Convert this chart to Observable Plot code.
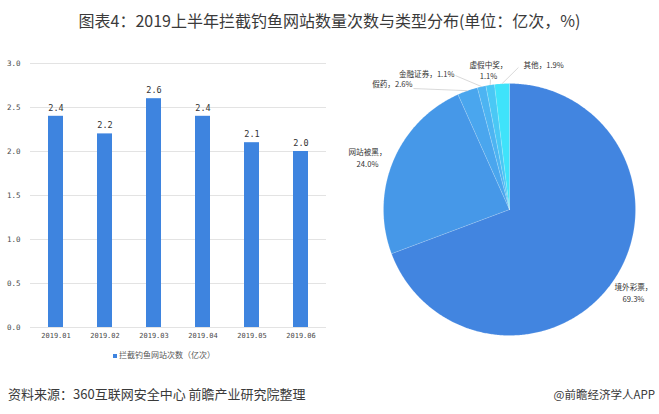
<!DOCTYPE html>
<html><head><meta charset="utf-8">
<script src="https://cdn.jsdelivr.net/npm/d3@7"></script>
<script src="https://cdn.jsdelivr.net/npm/@observablehq/plot@0.6"></script>
<style>
body{margin:0;background:#fff;}
#root{position:relative;width:659px;height:414px;overflow:hidden;background:#fff;font-family:"Noto Sans CJK SC",sans-serif;}
.abs{position:absolute;}
#title{left:0;top:9px;width:659px;text-align:center;font-size:16px;color:#3a3a3a;line-height:22px;white-space:nowrap;}
#legend{left:113px;top:348px;font-size:8px;color:#555;line-height:14px;white-space:nowrap;}
#legend span.sw{display:inline-block;width:4px;height:4px;background:#3E84DF;margin-right:2px;vertical-align:middle;}
#source{left:8px;top:384px;font-size:13px;color:#3a3a3a;line-height:20px;white-space:nowrap;}
#brand{right:4px;top:384px;font-size:11.5px;color:#3a3a3a;line-height:20px;white-space:nowrap;}
</style></head><body><div id="root">
<div id="title" class="abs"></div>
<div id="bar" class="abs" style="left:0;top:50px;"></div>
<div id="pie" class="abs" style="left:330px;top:40px;"></div>
<div id="legend" class="abs"></div>
<div id="source" class="abs"></div>
<div id="brand" class="abs"></div>
</div>
<script>
// ---- data ----
const titleText = "图表4：2019上半年拦截钓鱼网站数量次数与类型分布(单位：亿次，%)";
const months = ["2019.01","2019.02","2019.03","2019.04","2019.05","2019.06"];
const counts = [2.4, 2.2, 2.6, 2.4, 2.1, 2.0];
const yTicks = [0, 0.5, 1.0, 1.5, 2.0, 2.5, 3.0];
const seriesName = "拦截钓鱼网站次数（亿次）";
const types = ["境外彩票","网站被黑","假药","金融证券","虚假中奖","其他"];
const shares = [69.3, 24.0, 2.6, 1.1, 1.1, 1.9];
const sourceText = "资料来源：360互联网安全中心 前瞻产业研究院整理";
const brandText = "@前瞻经济学人APP";

// ---- styles / layout ----
const barColor = "#3E84DF";
const pieColors = ["#4285E0","#4698E8","#4AA6EE","#4DB4F2","#4AC8F5","#3FE3FA"];
const mono = "'DejaVu Sans Mono', monospace";
const cjk = "'Noto Sans CJK SC', sans-serif";
// label anchors in pie-radius units, plus line-break flag and text anchor
const labelX = [0.984, -1.127, -0.770, -0.437, -0.167, 0.111];
const labelY = [-0.659, 0.415, 0.998, 1.082, 1.107, 1.151];
const labelAnchor = ["middle","middle","end","end","middle","start"];
const labelBreak = [true, true, false, false, true, false];
// leader line ends (null = no leader)
const leaderX = [null, null, -0.762, -0.429, -0.151, 0.071];
const leaderY = [null, null, 0.960, 1.063, 1.032, 1.127];

document.getElementById("title").textContent = titleText;
document.getElementById("legend").innerHTML = '<span class="sw"></span>' + seriesName;
document.getElementById("source").textContent = sourceText;
document.getElementById("brand").textContent = brandText;

// ---- bar chart ----
const bars = months.map((m, i) => ({month: m, value: counts[i]}));
const barPlot = Plot.plot({
  width: 330, height: 300,
  marginTop: 13, marginBottom: 23, marginLeft: 30, marginRight: 4,
  style: {background: "transparent", color: "#4a4a4a"},
  x: {domain: months, paddingInner: 0.7, paddingOuter: 0.35, label: null},
  y: {domain: [0, 3], label: null},
  marks: [
    Plot.gridY(yTicks, {stroke: "#e3e3e3", strokeOpacity: 1}),
    Plot.barY(bars, {x: "month", y: "value", fill: barColor}),
    Plot.text(bars, {x: "month", y: "value", text: d => d.value.toFixed(1), dy: -8.5,
      lineAnchor: "middle", fontSize: 8.5, fontFamily: mono, fill: "#333"}),
    Plot.axisX({tickSize: 0, tickPadding: 6, fontSize: 7, fontFamily: mono, label: null, fill: "#4a4a4a"}),
    Plot.axisY(yTicks, {tickSize: 0, tickPadding: 10, fontSize: 7.5, fontFamily: mono, label: null,
      tickFormat: d3.format(".1f"), fill: "#4a4a4a"})
  ]
});
document.getElementById("bar").appendChild(barPlot);

// ---- pie chart ----
const arcs = d3.pie().sort(null).value(d => d)(shares);
const slices = arcs.map((a, i) => {
  const pts = [{x: 0, y: 0}];
  const n = Math.max(4, Math.ceil((a.endAngle - a.startAngle) / 0.01));
  for (let k = 0; k <= n; k++) {
    const t = a.startAngle + (a.endAngle - a.startAngle) * k / n;
    pts.push({x: Math.sin(t), y: Math.cos(t)});
  }
  pts.push({x: 0, y: 0});
  return pts;
});
const labels = types.map((t, i) => ({
  x: labelX[i], y: labelY[i], anchor: labelAnchor[i],
  text: t + "，" + (labelBreak[i] ? "\n" : "") + shares[i].toFixed(1) + "%"
}));
const leaders = [];
arcs.forEach((a, i) => {
  if (leaderX[i] == null) return;
  const mid = (a.startAngle + a.endAngle) / 2;
  leaders.push({x1: Math.sin(mid), y1: Math.cos(mid), x2: leaderX[i], y2: leaderY[i]});
});
const pieMarks = [];
slices.forEach((pts, i) => {
  pieMarks.push(Plot.line(pts, {x: "x", y: "y", fill: pieColors[i], stroke: "#ffffff",
    strokeWidth: 0.5, strokeOpacity: 0.3, curve: "linear"}));
});
pieMarks.push(Plot.link(leaders, {x1: "x1", y1: "y1", x2: "x2", y2: "y2", stroke: "#cfcfcf", strokeWidth: 0.8}));
["start","middle","end"].forEach(anc => {
  pieMarks.push(Plot.text(labels.filter(d => d.anchor === anc), {x: "x", y: "y", text: "text",
    textAnchor: anc, lineAnchor: "middle", lineHeight: 1.5, fontSize: 7.6, fontFamily: cjk, fill: "#333"}));
});
const piePlot = Plot.plot({
  width: 329, height: 330, margin: 0,
  style: {background: "transparent", overflow: "visible"},
  x: {domain: [-1, 1], range: [53, 305]},
  y: {domain: [-1, 1], range: [295, 43]},
  axis: null,
  marks: pieMarks
});
document.getElementById("pie").appendChild(piePlot);
</script>
</body></html>
